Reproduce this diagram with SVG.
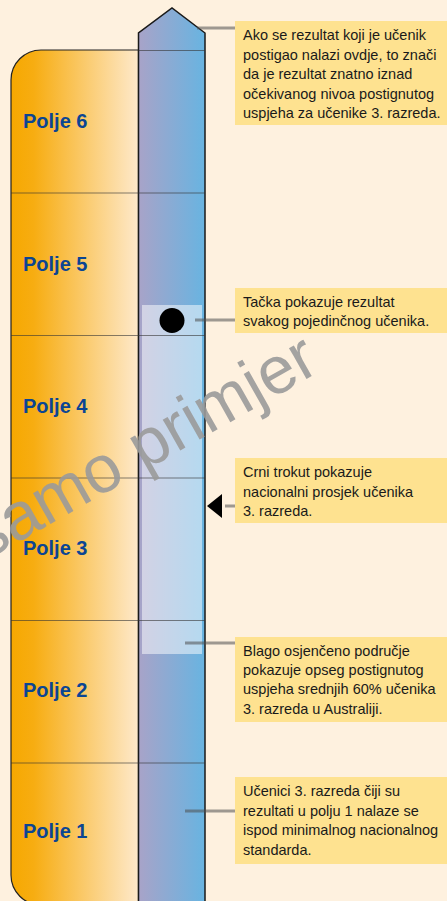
<svg xmlns="http://www.w3.org/2000/svg" width="447" height="901" viewBox="0 0 447 901">
<defs>
<linearGradient id="og" x1="0" y1="0" x2="1" y2="0">
<stop offset="0" stop-color="#f6a800"/>
<stop offset="0.18" stop-color="#f7ad12"/>
<stop offset="1" stop-color="#fee9cb"/>
</linearGradient>
<linearGradient id="bg" x1="0" y1="0" x2="1" y2="0">
<stop offset="0" stop-color="#a8a3c8"/>
<stop offset="1" stop-color="#68b4e1"/>
</linearGradient>
<style>
.lbl{font-family:"Liberation Sans",Arial,sans-serif;font-weight:bold;font-size:20px;fill:#0b4593}
.txt{font-family:"Liberation Sans",Arial,sans-serif;font-size:14.5px;fill:#1a1a1a}
.box{fill:#fee290}
.band{stroke:#333;stroke-opacity:0.6;stroke-width:1.2}
.con{stroke:#4e4e4e;stroke-opacity:0.55;stroke-width:3;fill:none}
</style>
</defs>
<rect width="447" height="901" fill="#fef1df"/>
<path d="M41,50 H138.5 V905 H41 A30,30 0 0 1 11,875 V80 A30,30 0 0 1 41,50 Z" fill="url(#og)" stroke="#222" stroke-width="1.2"/>
<path d="M138.5,905 V33 L172,8 L205,33 V905 Z" fill="url(#bg)" stroke="#1a1a1a" stroke-width="1.5"/>
<rect x="142" y="305" width="60" height="349" fill="#fff" fill-opacity="0.5"/>
<g id="bands">
<line class="band" x1="138.5" y1="50.5" x2="205" y2="50.5"/>
<line class="band" x1="11" y1="193" x2="205" y2="193"/>
<line class="band" x1="11" y1="335.5" x2="205" y2="335.5"/>
<line class="band" x1="11" y1="478" x2="205" y2="478"/>
<line class="band" x1="11" y1="620.5" x2="205" y2="620.5"/>
<line class="band" x1="11" y1="763" x2="205" y2="763"/>
</g>
<g id="polje-6"><text class="lbl" x="23" y="128">Polje 6</text></g>
<g id="polje-5"><text class="lbl" x="23" y="271">Polje 5</text></g>
<g id="polje-4"><text class="lbl" x="23" y="413">Polje 4</text></g>
<g id="polje-3"><text class="lbl" x="23" y="555">Polje 3</text></g>
<g id="polje-2"><text class="lbl" x="23" y="697">Polje 2</text></g>
<g id="polje-1"><text class="lbl" x="23" y="838">Polje 1</text></g>
<g id="markers">
<circle cx="172" cy="320.5" r="12.5" fill="#000"/>
<polygon points="207,506 222,494 222,518" fill="#000"/>
</g>
<g id="connectors">
<line class="con" x1="197" y1="28" x2="235" y2="28"/>
<line class="con" x1="195" y1="320" x2="235" y2="320"/>
<line class="con" x1="225" y1="506" x2="235" y2="506"/>
<line class="con" x1="185" y1="643" x2="235" y2="643"/>
<line class="con" x1="185" y1="811" x2="235" y2="811"/>
</g>
<g id="callout-top">
<rect class="box" x="235" y="21" width="212" height="104"/>
<text class="txt" x="243" y="40">Ako se rezultat koji je učenik</text>
<text class="txt" x="243" y="59.5">postigao nalazi ovdje, to znači</text>
<text class="txt" x="243" y="79">da je rezultat znatno iznad</text>
<text class="txt" x="243" y="98.5">očekivanog nivoa postignutog</text>
<text class="txt" x="243" y="118">uspjeha za učenike 3. razreda.</text>
</g>
<g id="callout-dot">
<rect class="box" x="235" y="288" width="212" height="45"/>
<text class="txt" x="243" y="307">Tačka pokazuje rezultat</text>
<text class="txt" x="243" y="326">svakog pojedinčnog učenika.</text>
</g>
<g id="callout-triangle">
<rect class="box" x="235" y="458" width="212" height="65"/>
<text class="txt" x="243" y="477">Crni trokut pokazuje</text>
<text class="txt" x="243" y="496.5">nacionalni prosjek učenika</text>
<text class="txt" x="243" y="516">3. razreda.</text>
</g>
<g id="callout-shaded">
<rect class="box" x="235" y="637" width="212" height="85"/>
<text class="txt" x="243" y="655.5">Blago osjenčeno područje</text>
<text class="txt" x="243" y="675">pokazuje opseg postignutog</text>
<text class="txt" x="243" y="694.3">uspjeha srednjih 60% učenika</text>
<text class="txt" x="243" y="713.5">3. razreda u Australiji.</text>
</g>
<g id="callout-polje1">
<rect class="box" x="235" y="777" width="212" height="87"/>
<text class="txt" x="243" y="796">Učenici 3. razreda čiji su</text>
<text class="txt" x="243" y="815.5">rezultati u polju 1 nalaze se</text>
<text class="txt" x="243" y="835">ispod minimalnog nacionalnog</text>
<text class="txt" x="243" y="854.5">standarda.</text>
</g>
<text transform="translate(-15,561) rotate(-29.5)" font-family="Liberation Sans, Arial, sans-serif" font-size="67" fill="#9a9a9a" fill-opacity="0.9">samo primjer</text>
</svg>
